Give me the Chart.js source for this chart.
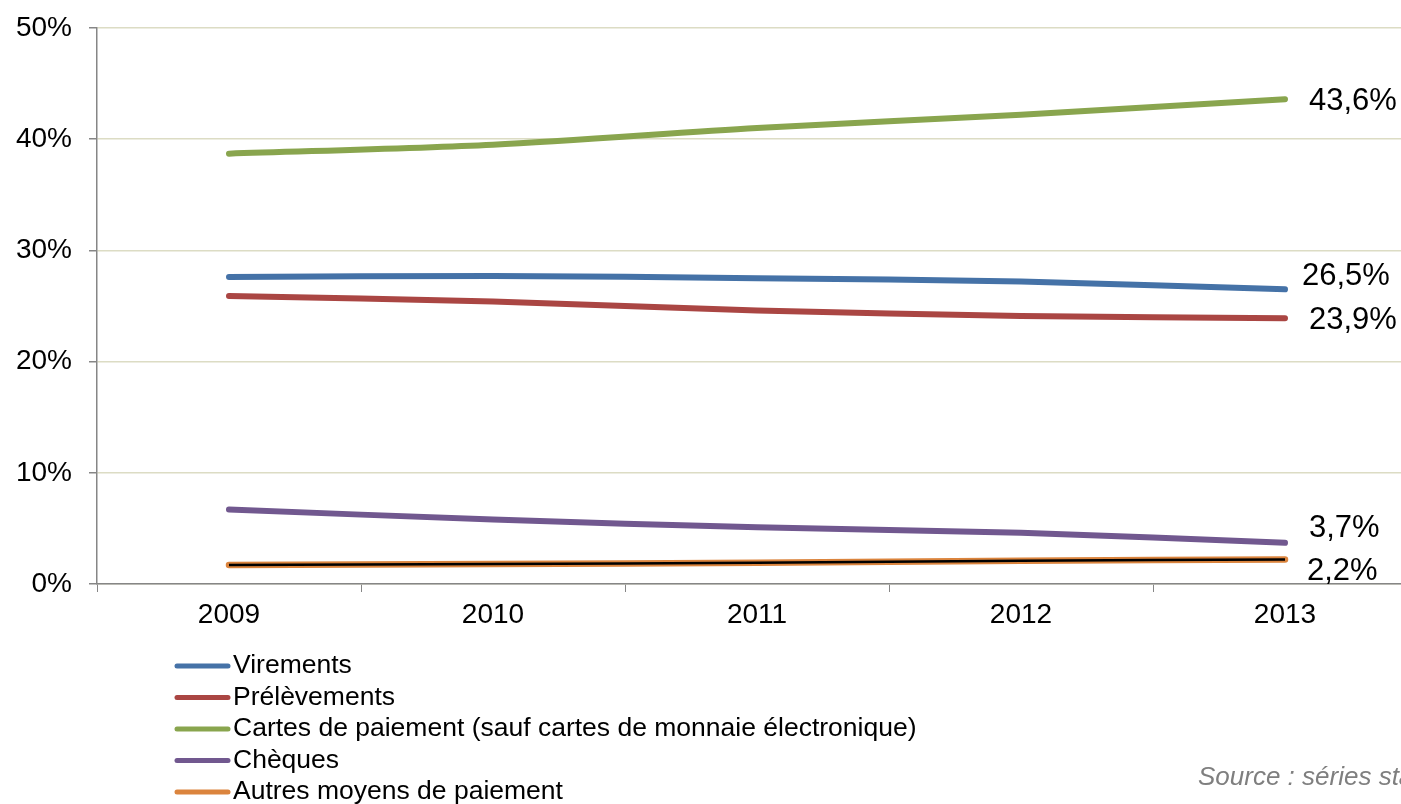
<!DOCTYPE html>
<html>
<head>
<meta charset="utf-8">
<script src="https://cdn.jsdelivr.net/npm/chart.js@4/dist/chart.umd.min.js"></script>
<style>
  html, body { margin: 0; padding: 0; background: #fff; overflow: hidden; }
  #wrap { width: 1401px; height: 804px; overflow: hidden; position: relative; }
  canvas { display: block; }
</style>
</head>
<body>
<div id="wrap"><canvas id="chart" width="1440" height="804"></canvas></div>
<script>
// ─── DATA ────────────────────────────────────────────────
const years       = ['2009', '2010', '2011', '2012', '2013'];
const virements   = [27.6, 27.7, 27.5, 27.2, 26.5];
const prelevements= [25.9, 25.4, 24.6, 24.1, 23.9];
const cartes      = [38.7, 39.5, 41.0, 42.2, 43.6];
const cheques     = [6.7, 5.8, 5.1, 4.6, 3.7];
const autres      = [1.7, 1.8, 1.9, 2.1, 2.2];
const autresTrait = [1.7, 1.8, 1.9, 2.1, 2.2];
const endLabels   = ['26,5%', '23,9%', '43,6%', '3,7%', '2,2%'];

const FONT = "'Liberation Sans', Arial, sans-serif";

// ─── END-OF-LINE LABELS ─────────────────────────────────
const endLabelPlugin = {
  id: 'endLabels',
  afterDatasetsDraw(chart) {
    const ctx = chart.ctx;
    ctx.save();
    ctx.font = '31px ' + FONT;
    ctx.fillStyle = '#000';
    ctx.textBaseline = 'middle';
    chart.data.datasets.forEach((ds, i) => {
      if (!ds.endLabel) return;
      const pts = chart.getDatasetMeta(i).data;
      const p = pts[pts.length - 1];
      ctx.fillText(ds.endLabel, p.x + ds.labelDx, p.y + ds.labelDy);
    });
    ctx.restore();
  }
};

// ─── LEGEND (vertical list under the axis) ──────────────
const legendPlugin = {
  id: 'listLegend',
  afterDraw(chart) {
    const ctx = chart.ctx;
    ctx.save();
    ctx.font = '26.5px ' + FONT;
    ctx.textBaseline = 'middle';
    let y = 666;
    chart.data.datasets.forEach(ds => {
      if (!ds.label) return;
      ctx.strokeStyle = ds.borderColor;
      ctx.lineWidth = 5;
      ctx.lineCap = 'round';
      ctx.beginPath();
      ctx.moveTo(177, y);
      ctx.lineTo(228, y);
      ctx.stroke();
      ctx.fillStyle = '#000';
      ctx.fillText(ds.label, 233, y);
      y += 31.5;
    });
    ctx.font = 'italic 26px ' + FONT;
    ctx.fillStyle = '#7f7f7f';
    ctx.fillText('Source : séries statistiques', 1198, 778);
    ctx.restore();
  }
};

function line(label, data, color, endLabel, dx, dy) {
  return {
    label, data, endLabel,
    labelDx: dx, labelDy: dy,
    borderColor: color,
    backgroundColor: color,
    borderWidth: 6,
    borderCapStyle: 'round',
    pointRadius: 0,
    tension: 0.3,
    order: 1
  };
}

const datasets = [
  line('Virements', virements, '#4572a7', endLabels[0], 17, -13),
  line('Prélèvements', prelevements, '#aa4643', endLabels[1], 24, 2),
  line('Cartes de paiement (sauf cartes de monnaie électronique)', cartes, '#89a54e', endLabels[2], 24, 2),
  line('Chèques', cheques, '#71588f', endLabels[3], 24, -14),
  line('Autres moyens de paiement', autres, '#db843d', endLabels[4], 22, 12),
  { label: '', data: autresTrait, borderColor: '#000', borderWidth: 2.5, pointRadius: 0, tension: 0.3, order: 0 }
];
datasets[4].borderWidth = 6.5;

new Chart(document.getElementById('chart'), {
  type: 'line',
  data: { labels: years, datasets },
  options: {
    responsive: false,
    devicePixelRatio: 1,
    animation: false,
    layout: { padding: { top: 28, right: 23, left: 0, bottom: 0 } },
    plugins: { legend: { display: false }, tooltip: { enabled: false } },
    scales: {
      x: {
        offset: true,
        grid: { offset: true, drawOnChartArea: false, tickLength: 8, color: '#868686', tickColor: '#868686' },
        border: { color: '#868686', width: 1.5 },
        ticks: { color: '#000', font: { family: FONT, size: 28 }, padding: 6, maxRotation: 0 },
        afterFit: s => { s.height = 220; }
      },
      y: {
        min: 0, max: 50,
        grid: { color: '#dcdcc4', lineWidth: 1.5, tickLength: 8, tickColor: '#868686' },
        border: { color: '#868686', width: 1.5 },
        ticks: { stepSize: 10, color: '#000', font: { family: FONT, size: 28 }, padding: 17, callback: v => v + '%' },
        afterFit: s => { s.width = 97; s.paddingTop = 0; s.paddingBottom = 0; }
      }
    }
  },
  plugins: [endLabelPlugin, legendPlugin]
});
</script>
</body>
</html>
